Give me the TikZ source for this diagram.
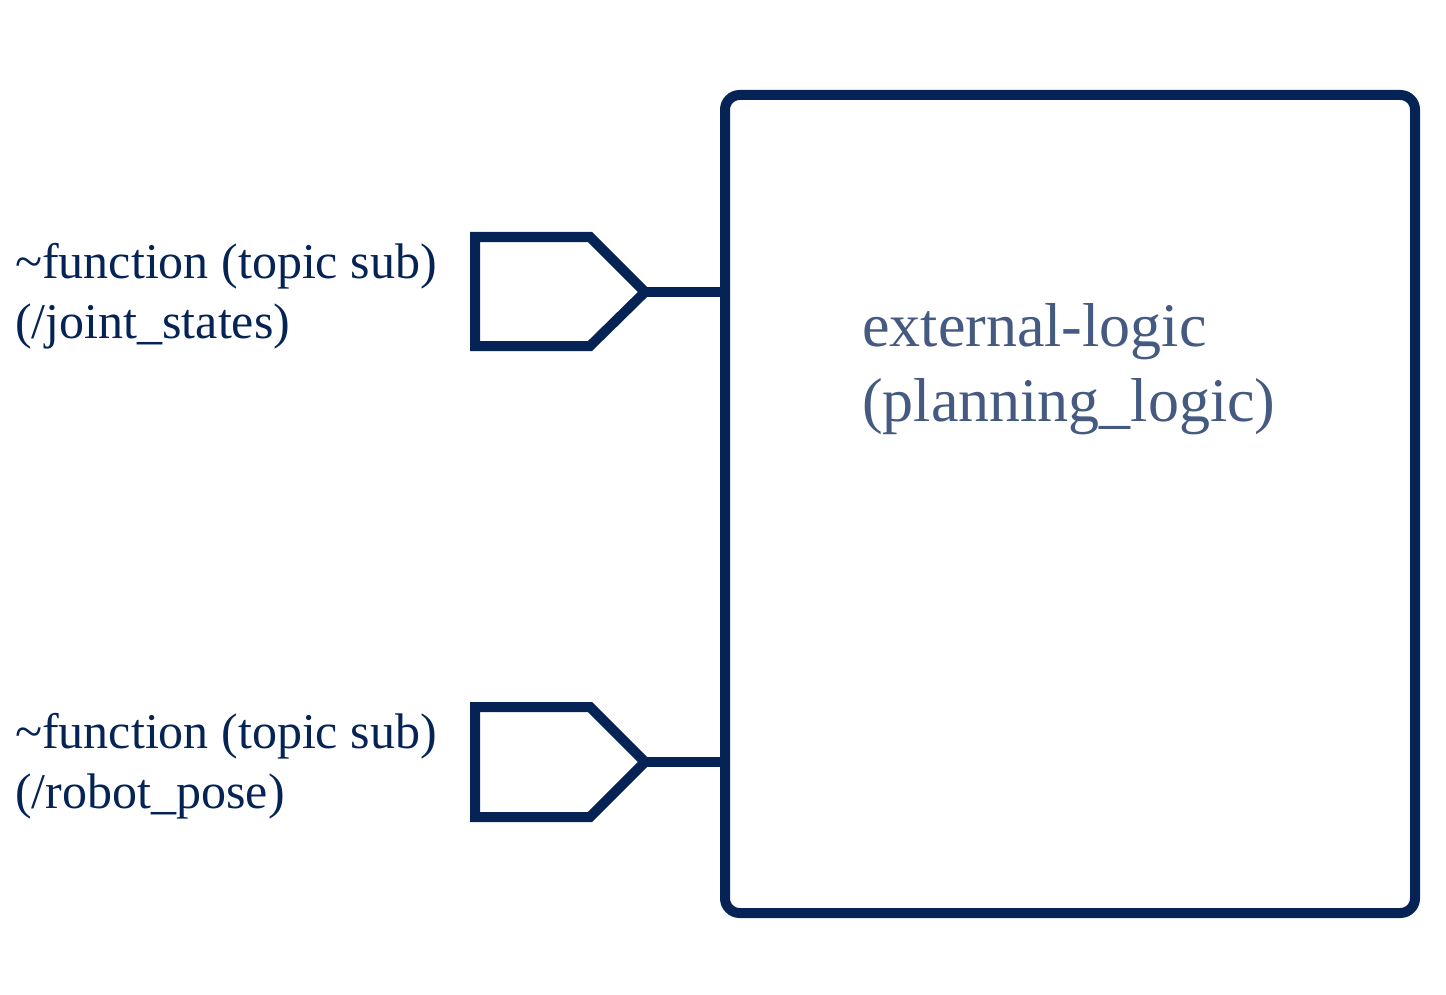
\documentclass[tikz,border=0pt]{standalone}
\usepackage{fontspec}
\setmainfont{Liberation Serif}
\definecolor{navy}{RGB}{5,36,85}
\definecolor{softnavy}{RGB}{69,90,128}
\begin{document}
\begin{tikzpicture}[x=0.75pt,y=-0.75pt,
  edge/.style={draw=navy,line width=7.5pt},
  port/.style={draw=navy,line width=7.5pt,line join=miter},
  lbl/.style={anchor=base west,inner sep=0pt,text=navy,align=left,
    font=\fontsize{37.5pt}{45pt}\selectfont},
  title/.style={anchor=base west,inner sep=0pt,text=softnavy,align=left,
    font=\fontsize{46.5pt}{56pt}\selectfont}]
\useasboundingbox (0,0) rectangle (1446,995);
% main box
\draw[edge,rounded corners=11pt] (725,95) rectangle (1415,913);
\coordinate (boxL1) at (725,292);
\coordinate (boxL2) at (725,762);
\node[title] (title) at (862,421) {external-logic\\(planning\_logic)};
% port 1
\draw[port] (475,237) -- (590,237) -- (645,292) -- (590,346) -- (475,346) -- cycle;
\coordinate (tip1) at (645,292);
\draw[edge] (tip1) -- (boxL1);
\node[lbl] (lab1) at (15,338) {\textasciitilde function (topic sub)\\(/joint\_states)};
% port 2
\draw[port] (475,707) -- (590,707) -- (645,762) -- (590,817) -- (475,817) -- cycle;
\coordinate (tip2) at (645,762);
\draw[edge] (tip2) -- (boxL2);
\node[lbl] (lab2) at (15,808) {\textasciitilde function (topic sub)\\(/robot\_pose)};
\end{tikzpicture}
\end{document}
